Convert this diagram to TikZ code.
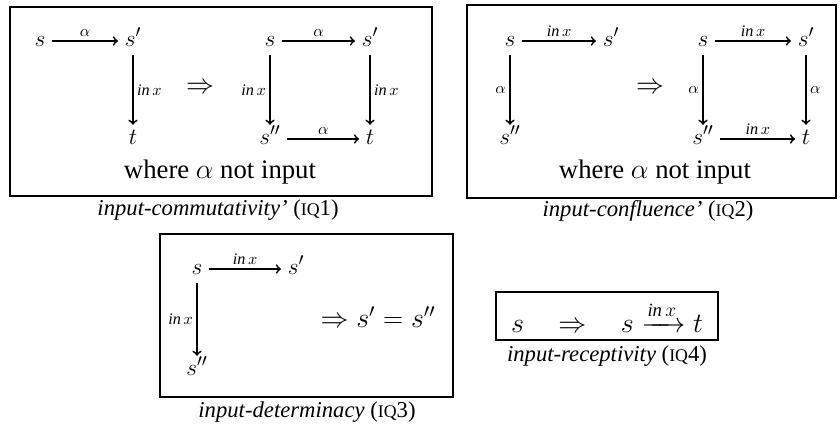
\documentclass[tikz,border=0pt]{standalone}
\usepackage{amsmath}
\usepackage{fontspec}
\setmainfont{Liberation Serif}
\newcommand{\inx}{\mathit{in}\,x}
\newcommand{\iq}[1]{{\fontsize{11}{13}\selectfont IQ}#1}
\tikzset{
  st/.style={inner sep=4pt, text height=1.7ex, text depth=.3ex, font=\fontsize{15}{18}\selectfont},
  lab/.style={inner sep=2pt, font=\fontsize{10}{12}\selectfont},
  big/.style={font=\fontsize{16.5}{19}\selectfont},
  arr/.style={->, line width=1.1pt},
  frame/.style={line width=1.5pt},
  captn/.style={font=\fontsize{14}{16}\selectfont\itshape}
}
\begin{document}
\begin{tikzpicture}[x=0.0217cm, y=-0.0217cm]
  \useasboundingbox (0,0) rectangle (840,430);
  % IQ1
  \draw[frame] (10,7) rectangle (432,196);
  \node[st] (a1) at (40,41) {$s$};
  \node[st] (a2) at (133,41) {$s'$};
  \node[st] (a3) at (133,139) {$t$};
  \draw[arr] (a1) -- node[lab,above] (l1) {$\alpha$} (a2);
  \draw[arr] (a2) -- node[lab,right] (l2) {$\inx$} (a3);
  \node[big] (i1) at (200,88) {$\Rightarrow$};
  \node[st] (b1) at (270,41) {$s$};
  \node[st] (b2) at (370,41) {$s'$};
  \node[st] (b3) at (270,139) {$s''$};
  \node[st] (b4) at (370,139) {$t$};
  \draw[arr] (b1) -- node[lab,above] (l3) {$\alpha$} (b2);
  \draw[arr] (b1) -- node[lab,left] (l4) {$\inx$} (b3);
  \draw[arr] (b2) -- node[lab,right] (l5) {$\inx$} (b4);
  \draw[arr] (b3) -- node[lab,above] (l6) {$\alpha$} (b4);
  \node[big] (w1) at (220,172) {where $\alpha$ not input};
  \node[captn] (c1) at (218,210) {input-commutativity' \upshape(\iq{1})};
  % IQ2
  \draw[frame] (467,5) rectangle (836,198);
  \node[st] (e1) at (510,41) {$s$};
  \node[st] (e2) at (611,41) {$s'$};
  \node[st] (e3) at (510,139) {$s''$};
  \draw[arr] (e1) -- node[lab,above] (l7) {$\inx$} (e2);
  \draw[arr] (e1) -- node[lab,left] (l8) {$\alpha$} (e3);
  \node[big] (i2) at (650,88) {$\Rightarrow$};
  \node[st] (d1) at (703,41) {$s$};
  \node[st] (d2) at (806,41) {$s'$};
  \node[st] (d3) at (703,139) {$s''$};
  \node[st] (d4) at (806,139) {$t$};
  \draw[arr] (d1) -- node[lab,above] (l9) {$\inx$} (d2);
  \draw[arr] (d1) -- node[lab,left] (l10) {$\alpha$} (d3);
  \draw[arr] (d2) -- node[lab,right] (l11) {$\alpha$} (d4);
  \draw[arr] (d3) -- node[lab,above] (l12) {$\inx$} (d4);
  \node[big] (w2) at (655,172) {where $\alpha$ not input};
  \node[captn] (c2) at (648,211) {input-confluence' \upshape(\iq{2})};
  % IQ3
  \draw[frame] (160,234) rectangle (453,397);
  \node[st] (f1) at (197,269) {$s$};
  \node[st] (f2) at (296,269) {$s'$};
  \node[st] (f3) at (197,370) {$s''$};
  \draw[arr] (f1) -- node[lab,above] (l13) {$\inx$} (f2);
  \draw[arr] (f1) -- node[lab,left] (l14) {$\inx$} (f3);
  \node[big] (i3) at (378,317) {$\Rightarrow s' = s''$};
  \node[captn] (c3) at (307,412) {input-determinacy \upshape(\iq{3})};
  % IQ4
  \draw[frame] (496,292) rectangle (718,340);
  \node[big] (i4) at (607,317) {$s \quad\Rightarrow\quad s \xrightarrow{\inx} t$};
  \node[captn] (c4) at (607,356) {input-receptivity \upshape(\iq{4})};
\end{tikzpicture}
\end{document}
